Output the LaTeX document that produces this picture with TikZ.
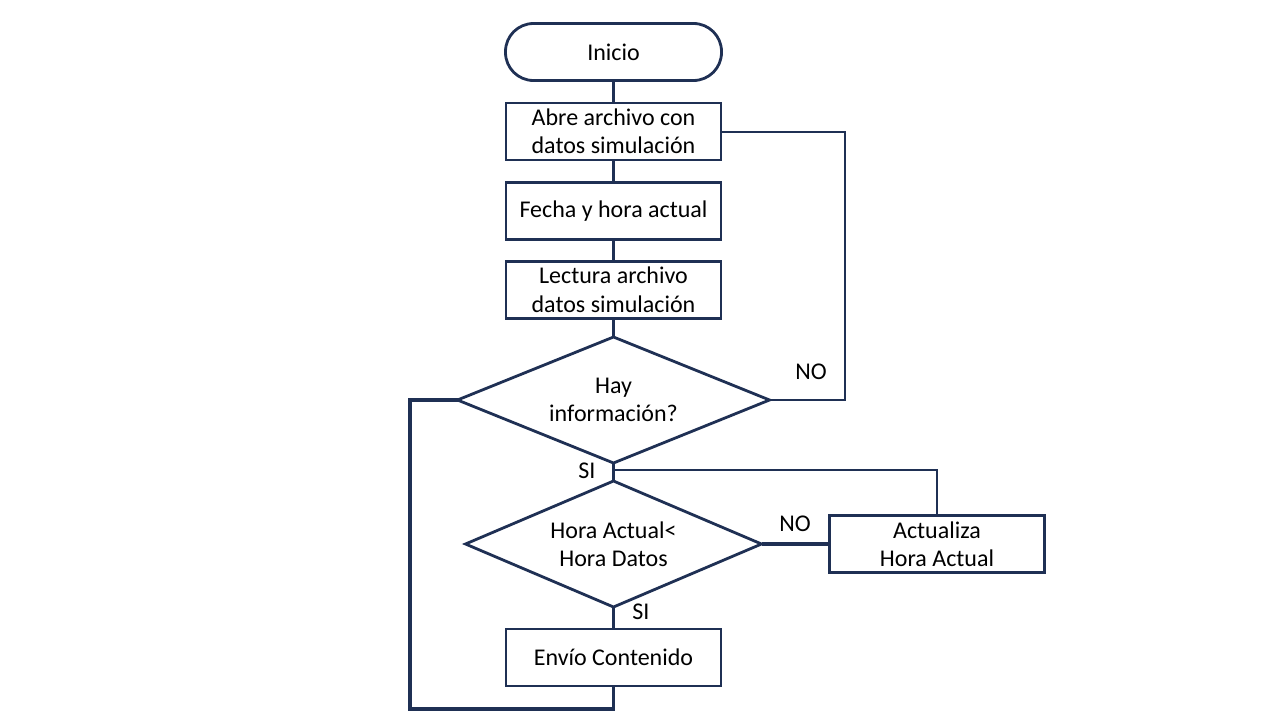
\documentclass[tikz,border=0pt]{standalone}
\usepackage{fontspec}
\setmainfont{Carlito}
\usetikzlibrary{shapes.geometric}
\definecolor{navy}{RGB}{31,48,84}

\begin{document}
\begin{tikzpicture}[x=1pt, y=-1pt,
    txt/.style={font=\fontsize{24}{28.5}\selectfont, align=center, text=black},
    term/.style={txt, draw=navy, line width=2.8pt, rectangle, rounded corners=28pt, minimum width=216, minimum height=57, inner sep=0, outer sep=0},
    proc/.style={txt, draw=navy, line width=2.8pt, rectangle, minimum width=215, minimum height=57, inner sep=0, outer sep=0},
    decis/.style={txt, draw=navy, line width=2.8pt, diamond, minimum height=126, inner sep=0, outer sep=0},
    line/.style={draw=navy, line width=2.6pt},
    thin/.style={draw=navy, line width=2pt},
    lbl/.style={txt}]
        \useasboundingbox (0,0) rectangle (1280,720);
        \node [term] (inicio) at (613.5, 52) {Inicio};
        \node [proc] (abre) at (613.5, 131.5) {Abre archivo con\\datos simulación};
        \node [proc] (fecha) at (613.5, 211) {Fecha y hora actual};
        \node [proc] (lectura) at (613.5, 290) {Lectura archivo\\datos simulación};
        \node [decis, minimum width=312, aspect=2.48] (hay) at (613.5, 400) {Hay\\información?};
        \node [decis, minimum width=296, aspect=2.35] (hora) at (613.5, 544) {Hora Actual<\\Hora Datos};
        \node [proc, line width=3pt] (actual) at (937, 544) {Actualiza\\Hora Actual};
        \node [proc] (envio) at (613.5, 657.5) {Envío Contenido};
        \coordinate (noR) at (845, 400);
        \coordinate (siJ) at (613.5, 470);
        \coordinate (loopL) at (410, 709);
        \node [lbl] (noA) at (811, 372) {NO};
        \node [lbl] (siA) at (587, 471) {SI};
        \node [lbl] (noB) at (795, 524) {NO};
        \node [lbl] (siB) at (641, 612) {SI};
        \path [line] (inicio) edge node {} (abre);
        \path [line] (abre) edge node {} (fecha);
        \path [line] (fecha) edge node {} (lectura);
        \path [line] (lectura) edge node {} (hay);
        \path [line] (hay) edge node {} (hora);
        \path [line, line width=3.4pt] (hora) edge node {} (actual);
        \path [line] (hora) edge node {} (envio);
        \draw [thin] (hay.east) -- (noR) |- (abre.east);
        \draw [thin] (siJ) -| (actual.north);
        \draw [line, line width=3.2pt] (envio.south) |- (loopL) |- (hay.west);
    \end{tikzpicture}
\end{document}
